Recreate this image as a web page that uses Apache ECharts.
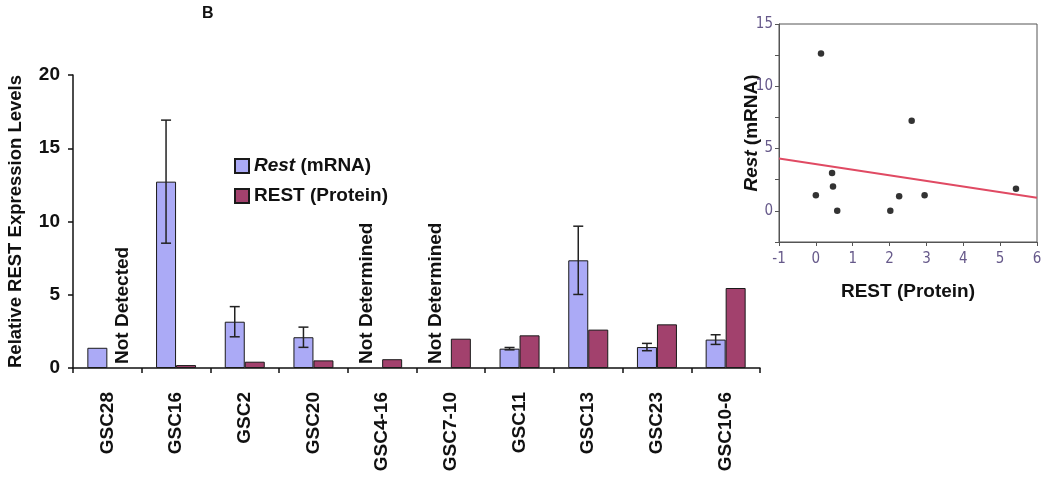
<!DOCTYPE html>
<html>
<head>
<meta charset="utf-8">
<script src="https://cdn.jsdelivr.net/npm/echarts@6/dist/echarts.min.js"></script>
<style>
html,body{margin:0;padding:0;background:#fff;}
#c{width:1050px;height:479px;}
</style>
</head>
<body>
<div id="c"></div>
<script>
// ---- data ----
const categories = ['GSC28','GSC16','GSC2','GSC20','GSC4-16','GSC7-10','GSC11','GSC13','GSC23','GSC10-6'];
const mrnaValues = [1.38, 12.72, 3.16, 2.1, null, null, 1.32, 7.35, 1.43, 1.94];
const mrnaErrors = [null, 4.2, 1.03, 0.69, null, null, 0.08, 2.33, 0.25, 0.33];
const proteinValues = [null, 0.2, 0.43, 0.52, 0.6, 2.0, 2.23, 2.62, 2.98, 5.46];
const noteCategories = ['GSC28', 'GSC4-16', 'GSC7-10'];
const noteSides = [1, -1, -1];
const noteTexts = ['Not Detected', 'Not Determined', 'Not Determined'];
const yTicksMain = [0, 5, 10, 15, 20];

const scatterProtein = [0.0, 0.14, 0.44, 0.465, 0.58, 2.02, 2.26, 2.6, 2.95, 5.43];
const scatterMrna = [1.26, 12.63, 3.04, 1.96, 0, 0, 1.18, 7.23, 1.26, 1.77];
const trendX = [-1, 6];
const trendY = [4.2, 1.05];

// ---- styling ----
const FONT = '"Liberation Sans", Arial, Helvetica, sans-serif';
const NARROW = '"Liberation Sans Narrow", "Arial Narrow", "DejaVu Sans Condensed", sans-serif';
const BAR_W = 20;
const MRNA_COLOR = '#abaaf6';
const PROT_COLOR = '#a2416d';
const TICK_COLOR = '#66598a';

const chart = echarts.init(document.getElementById('c'), null, {renderer: 'canvas'});

const errData = [];
mrnaValues.forEach((v, i) => { if (v != null && mrnaErrors[i] != null) errData.push([i, v, mrnaErrors[i]]); });
const noteData = noteCategories.map((c, k) => [categories.indexOf(c), noteSides[k], noteTexts[k]]);

const option = {
  animation: false,
  backgroundColor: '#fff',
  textStyle: {fontFamily: FONT},
  title: {
    text: 'B', left: 197, top: 1,
    textStyle: {fontFamily: FONT, fontSize: 16, fontWeight: 'bold', color: '#111'}
  },
  legend: {
    data: ['Rest (mRNA)', 'REST (Protein)'],
    orient: 'vertical',
    left: 229, top: 151,
    itemWidth: 14, itemHeight: 14, itemGap: 10,
    icon: 'rect',
    selectedMode: false,
    formatter: function (name) {
      return name === 'Rest (mRNA)' ? '{i|Rest} (mRNA)' : name;
    },
    textStyle: {
      fontFamily: FONT, fontSize: 19, fontWeight: 'bold', color: '#111', lineHeight: 20,
      rich: {i: {fontFamily: FONT, fontSize: 19, fontWeight: 'bold', fontStyle: 'italic', color: '#111', lineHeight: 20}}
    }
  },
  grid: [
    {left: 73, right: 290, top: 75, bottom: 111, containLabel: false, outerBoundsMode: 'none'},
    {left: 779, right: 13, top: 24, bottom: 237, show: true, borderColor: '#555', borderWidth: 1,
      containLabel: false, outerBoundsMode: 'none'}
  ],
  xAxis: [
    {
      type: 'category', data: categories, gridIndex: 0,
      axisLine: {lineStyle: {color: '#111', width: 1.5}},
      axisTick: {show: true, length: 5, lineStyle: {color: '#111', width: 1.5}},
      axisLabel: {rotate: 90, margin: 24, fontFamily: FONT, fontSize: 19, fontWeight: 'bold', color: '#111'}
    },
    {
      type: 'value', gridIndex: 1, min: -1, max: 6, interval: 1,
      axisLine: {onZero: false, lineStyle: {color: '#555'}},
      axisTick: {show: true, length: 4, lineStyle: {color: '#555'}},
      splitLine: {show: false},
      axisLabel: {margin: 10, fontFamily: NARROW, fontSize: 15, color: TICK_COLOR},
      name: 'REST (Protein)', nameLocation: 'middle', nameGap: 40, nameMoveOverlap: false,
      nameTextStyle: {fontFamily: FONT, fontSize: 19, fontWeight: 'bold', color: '#111'}
    }
  ],
  yAxis: [
    {
      type: 'value', gridIndex: 0, min: 0, max: 20, interval: 5,
      axisLine: {show: true, lineStyle: {color: '#111', width: 1.5}},
      axisTick: {show: true, length: 5, lineStyle: {color: '#111', width: 1.5}},
      splitLine: {show: false},
      axisLabel: {margin: 13, fontFamily: FONT, fontSize: 19, fontWeight: 'bold', color: '#111',
        formatter: function (v) { return yTicksMain.indexOf(v) >= 0 ? String(v) : ''; }},
      name: 'Relative REST Expression Levels', nameLocation: 'middle', nameGap: 48, nameMoveOverlap: false,
      nameTextStyle: {fontFamily: FONT, fontSize: 18.5, fontWeight: 'bold', color: '#111'}
    },
    {
      type: 'value', gridIndex: 1, min: -2.5, max: 15, interval: 2.5,
      axisLine: {show: true, onZero: false, lineStyle: {color: '#555'}},
      axisTick: {show: true, length: 4, lineStyle: {color: '#555'}},
      splitLine: {show: false},
      axisLabel: {margin: 6, fontFamily: NARROW, fontSize: 15, color: TICK_COLOR,
        formatter: function (v) { return (Math.abs(v % 5) < 1e-9) ? String(v) : ''; }},
      name: '{i|Rest} (mRNA)', nameLocation: 'middle', nameGap: 18, nameMoveOverlap: false,
      nameTextStyle: {fontFamily: FONT, fontSize: 19, fontWeight: 'bold', color: '#111',
        rich: {i: {fontFamily: FONT, fontSize: 19, fontWeight: 'bold', fontStyle: 'italic', color: '#111'}}}
    }
  ],
  series: [
    {
      name: 'Rest (mRNA)', type: 'bar', xAxisIndex: 0, yAxisIndex: 0,
      data: mrnaValues, barWidth: BAR_W, barGap: '0%',
      itemStyle: {color: MRNA_COLOR, borderColor: '#1a1a1a', borderWidth: 1}
    },
    {
      name: 'REST (Protein)', type: 'bar', xAxisIndex: 0, yAxisIndex: 0,
      data: proteinValues, barWidth: BAR_W, barGap: '0%',
      itemStyle: {color: PROT_COLOR, borderColor: '#1a1a1a', borderWidth: 1}
    },
    {
      name: 'errors', type: 'custom', xAxisIndex: 0, yAxisIndex: 0, z: 5,
      data: errData,
      renderItem: function (params, api) {
        const i = api.value(0), v = api.value(1), e = api.value(2);
        const top = api.coord([i, v + e]);
        const bot = api.coord([i, v - e]);
        const x = top[0] - BAR_W / 2;
        const cap = 5;
        const st = {stroke: '#222', lineWidth: 1.5};
        return {type: 'group', children: [
          {type: 'line', shape: {x1: x, y1: top[1], x2: x, y2: bot[1]}, style: st},
          {type: 'line', shape: {x1: x - cap, y1: top[1], x2: x + cap, y2: top[1]}, style: st},
          {type: 'line', shape: {x1: x - cap, y1: bot[1], x2: x + cap, y2: bot[1]}, style: st}
        ]};
      }
    },
    {
      name: 'notes', type: 'custom', xAxisIndex: 0, yAxisIndex: 0, z: 5,
      data: noteData,
      renderItem: function (params, api) {
        const i = api.value(0), side = api.value(1);
        const p = api.coord([i, 0]);
        return {
          type: 'text', x: p[0] + side * 15, y: p[1] - 4, rotation: Math.PI / 2,
          style: {text: noteTexts[params.dataIndex], fill: '#111',
            font: 'bold 19px ' + FONT, textAlign: 'left', textVerticalAlign: 'middle'}
        };
      }
    },
    {
      name: 'trend', type: 'line', xAxisIndex: 1, yAxisIndex: 1,
      data: trendX.map((x, k) => [x, trendY[k]]),
      symbol: 'none', lineStyle: {color: '#e04a63', width: 2}, z: 3
    },
    {
      name: 'points', type: 'scatter', xAxisIndex: 1, yAxisIndex: 1,
      data: scatterProtein.map((x, k) => [x, scatterMrna[k]]),
      symbolSize: 6.5, itemStyle: {color: '#000'}, z: 4
    }
  ]
};
chart.setOption(option);
</script>
</body>
</html>
